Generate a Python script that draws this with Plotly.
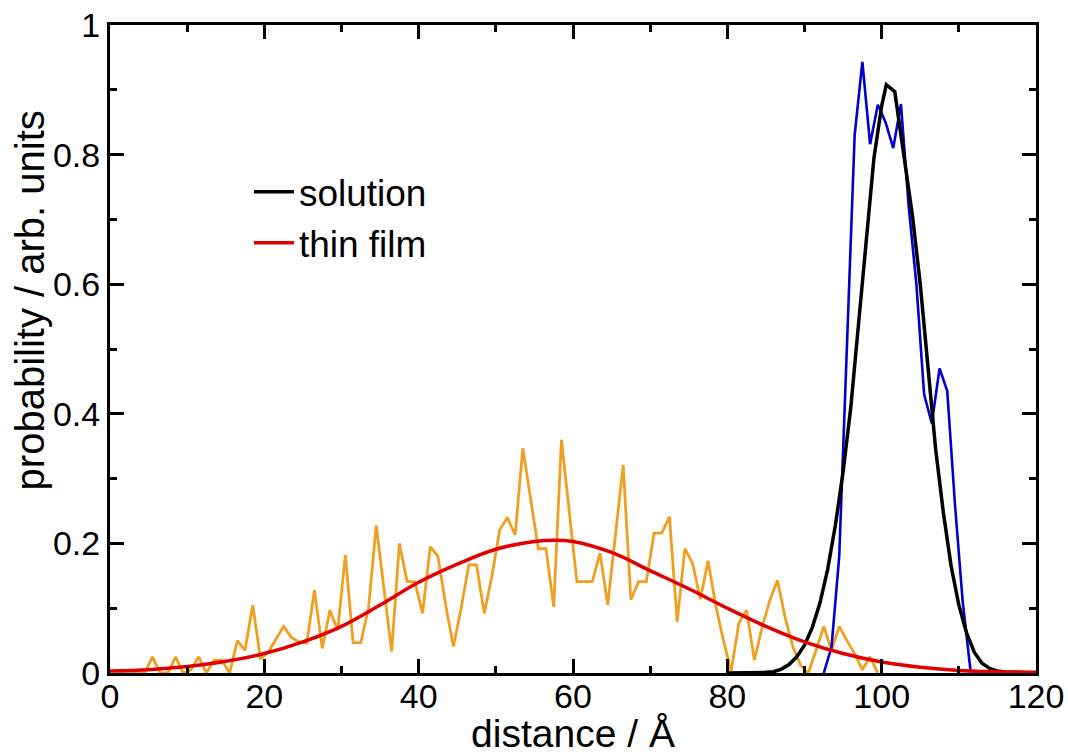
import plotly.graph_objects as go

# thin film histogram (orange), bin centres in Angstrom
film_x = [i + 0.5 for i in range(100)]
film_y = [0.003, 0.002, 0.003, 0.0, 0.0, 0.025, 0.0, 0.0, 0.025, 0.0,
          0.005, 0.025, 0.0, 0.02, 0.02, 0.0, 0.05, 0.035, 0.105, 0.022,
          0.032, 0.052, 0.072, 0.055, 0.048, 0.046, 0.128, 0.038, 0.097, 0.066,
          0.182, 0.047, 0.047, 0.10, 0.228, 0.13, 0.033, 0.20, 0.141, 0.141,
          0.092, 0.195, 0.18, 0.105, 0.041, 0.10, 0.167, 0.167, 0.092, 0.15,
          0.221, 0.24, 0.213, 0.347, 0.27, 0.192, 0.192, 0.102, 0.36, 0.25,
          0.141, 0.141, 0.141, 0.185, 0.105, 0.213, 0.321, 0.113, 0.141, 0.141,
          0.216, 0.216, 0.241, 0.079, 0.192, 0.169, 0.114, 0.173, 0.104, 0.05,
          0.003, 0.077, 0.097, 0.02, 0.07, 0.112, 0.143, 0.085, 0.04, 0.012,
          0.0, 0.035, 0.072, 0.035, 0.072, 0.05, 0.03, 0.005, 0.025, 0.0]

# solution histogram (blue)
sol_x = [92.5, 93.5, 94.5, 95.5, 96.5, 97.5, 98.5, 99.5, 100.5, 101.5,
         102.5, 103.5, 104.5, 105.5, 106.5, 107.5, 108.5, 109.5, 110.5, 111.5]
sol_y = [0.0, 0.04, 0.18, 0.5, 0.83, 0.943, 0.816, 0.877, 0.85, 0.81,
         0.878, 0.72, 0.6, 0.43, 0.385, 0.47, 0.435, 0.26, 0.11, 0.005]

# solution fit (black)
fit_sol_x = [80, 84, 85, 86, 87, 88, 89, 90, 91, 92, 93, 94, 95, 96, 97, 98, 99,
             100, 100.6, 101.7, 103, 104, 105, 106, 107, 108, 109, 110, 111,
             112, 113, 114, 115, 116, 118, 120]
fit_sol_y = [0.0, 0.0, 0.001, 0.002, 0.006, 0.013, 0.025, 0.043, 0.07, 0.108,
             0.16, 0.228, 0.31, 0.41, 0.54, 0.67, 0.795, 0.875, 0.908, 0.897,
             0.79, 0.705, 0.6, 0.465, 0.345, 0.247, 0.165, 0.105, 0.062,
             0.032, 0.015, 0.007, 0.003, 0.0015, 0.0003, 0.0]

# thin film fit (red)
fit_film_x = [0, 5, 10, 15, 20, 25, 30, 35, 40, 45, 50, 55, 57.5, 60, 65, 70,
              75, 80, 85, 90, 95, 100, 105, 110, 115, 120]
fit_film_y = [0.003, 0.005, 0.01, 0.018, 0.03, 0.048, 0.072, 0.105, 0.14,
              0.168, 0.191, 0.203, 0.205, 0.203, 0.186, 0.158, 0.13, 0.1,
              0.072, 0.048, 0.03, 0.017, 0.009, 0.004, 0.002, 0.001]

FONT = "Liberation Sans, Arial, sans-serif"

fig = go.Figure()
fig.add_trace(go.Scatter(x=film_x, y=film_y, mode="lines",
                         line=dict(color="#F0A020", width=2.8), showlegend=False))
fig.add_trace(go.Scatter(x=sol_x, y=sol_y, mode="lines",
                         line=dict(color="#0000D0", width=2.6), showlegend=False))
fig.add_trace(go.Scatter(x=fit_sol_x, y=fit_sol_y, mode="lines", name="solution",
                         line=dict(color="black", width=3.5)))
fig.add_trace(go.Scatter(x=fit_film_x, y=fit_film_y, mode="lines", name="thin film",
                         line=dict(color="#E00000", width=3.5, shape="spline")))

axis_common = dict(showline=True, linecolor="black", linewidth=3, mirror="ticks",
                   ticks="inside", tickwidth=3, ticklen=14, tickcolor="black",
                   showgrid=False, zeroline=False,
                   tickfont=dict(family=FONT, size=34, color="black"),
                   minor=dict(ticks="inside", ticklen=7, tickwidth=3, tickcolor="black"))

fig.update_xaxes(range=[0, 120], tick0=0, dtick=20, minor_dtick=10,
                 ticklabelstandoff=-9,
                 title=dict(text="distance / Å", font=dict(family=FONT, size=39, color="black"),
                            standoff=10),
                 **axis_common)
fig.update_yaxes(range=[0, 1], tick0=0, dtick=0.2, minor_dtick=0.1, **axis_common)

fig.update_layout(
    width=1068, height=755,
    margin=dict(l=110, r=32, t=25, b=82, autoexpand=False),
    plot_bgcolor="white", paper_bgcolor="white",
    legend=dict(x=0.15, y=0.79, xanchor="left", yanchor="top",
                bgcolor="rgba(0,0,0,0)", font=dict(family=FONT, size=37, color="black"),
                itemwidth=40, tracegroupgap=0),
    annotations=[dict(text="probability / arb. units", textangle=-90,
                      xref="paper", yref="paper", x=-0.0864, y=0.575,
                      xanchor="center", yanchor="middle", showarrow=False,
                      font=dict(family=FONT, size=40, color="black"))],
)

fig.write_html("out.html")
